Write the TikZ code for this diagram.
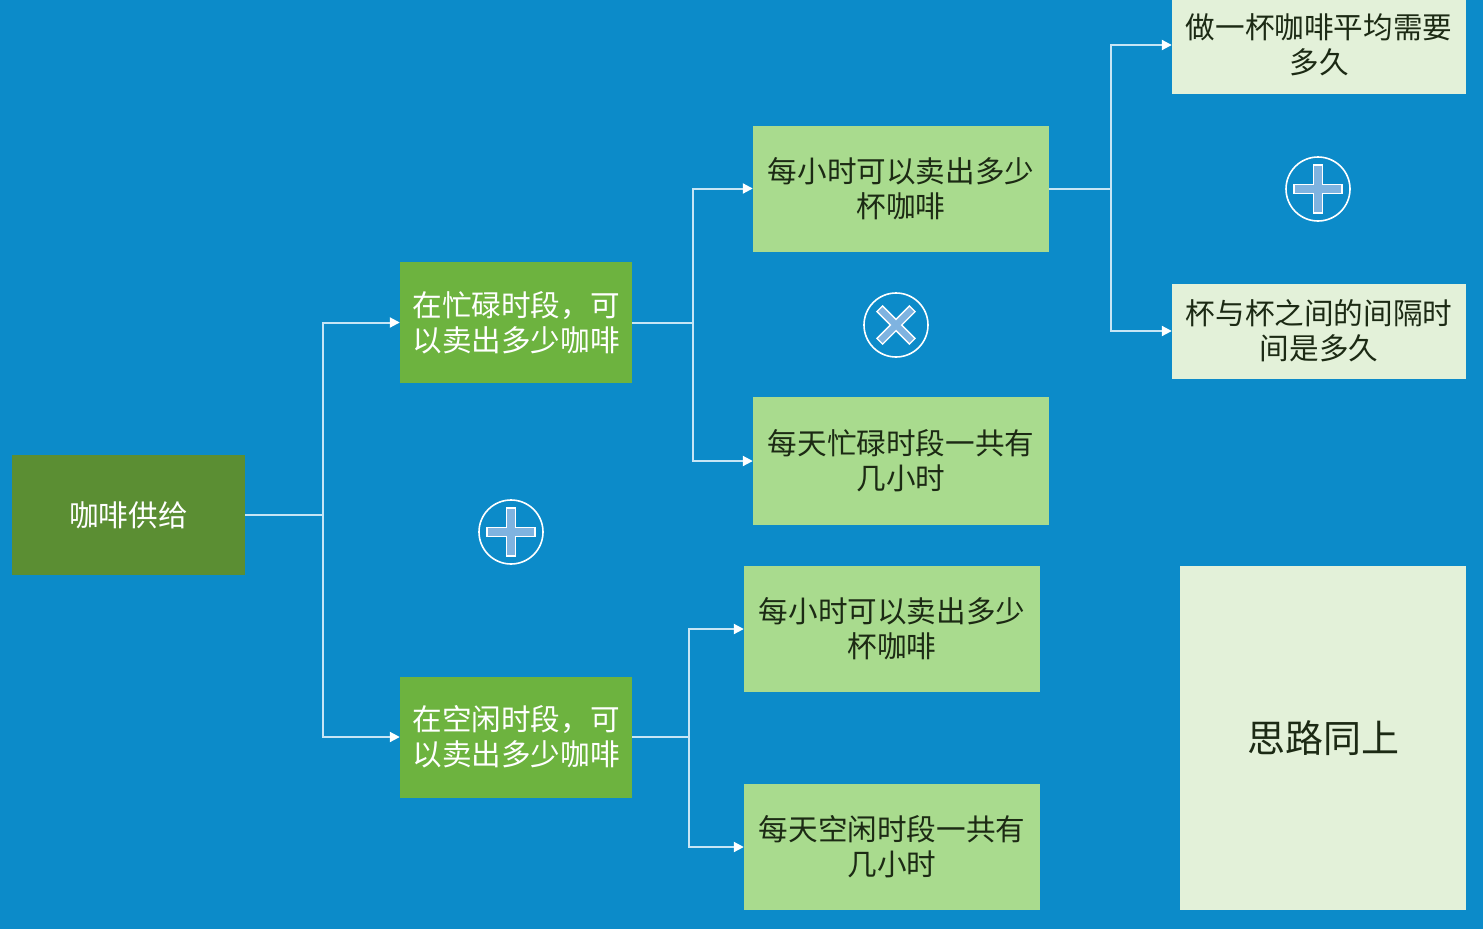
\documentclass[tikz,border=0pt]{standalone}
\usepackage{fontspec}
\setmainfont{Noto Sans CJK SC}
\usetikzlibrary{arrows.meta}
\definecolor{bg}{HTML}{0C8BC9}
\definecolor{rootg}{HTML}{5B8E33}
\definecolor{midg}{HTML}{6DB33F}
\definecolor{lightg}{HTML}{A9DB8E}
\definecolor{paleg}{HTML}{E3F1D9}
\definecolor{linec}{HTML}{C6E5F5}
\definecolor{symfill}{HTML}{7FB3E0}
\definecolor{darktext}{HTML}{1C2A14}
\tikzset{
  box/.style={rectangle, inner sep=0pt, align=center, font=\fontsize{29.6}{35}\selectfont},
  rootbox/.style={box, fill=rootg, text=white, minimum width=233, minimum height=120},
  midbox/.style={box, fill=midg, text=white, minimum width=232, minimum height=121},
  leafbox/.style={box, fill=lightg, text=darktext, minimum width=296, minimum height=126},
  palebox/.style={box, fill=paleg, text=darktext, minimum width=294, minimum height=95},
  conn/.style={draw=linec, line width=2pt},
  arr/.style={conn, -{Triangle[length=10pt,width=10pt,fill=white,color=white]}},
  ring/.style={circle, draw=white, line width=1.6pt, minimum size=64, inner sep=0pt},
  symb/.style={fill=symfill, draw=white, line width=1.3pt}
}
\begin{document}
\begin{tikzpicture}[x=1pt,y=-1pt]
\fill[bg] (0,0) rectangle (1483,929);
\useasboundingbox (0,0) rectangle (1483,929);

\node[rootbox] (root) at (128.5,515) {咖啡供给};
\node[midbox] (a1) at (516,322.5) {在忙碌时段，可\\以卖出多少咖啡};
\node[midbox] (a2) at (516,737) {在空闲时段，可\\以卖出多少咖啡};
\node[leafbox] (b1) at (901,188.5) {每小时可以卖出多少\\杯咖啡};
\node[leafbox, minimum height=128] (b2) at (901,461) {每天忙碌时段一共有\\几小时};
\node[leafbox] (c1) at (892,629) {每小时可以卖出多少\\杯咖啡};
\node[leafbox] (c2) at (892,847) {每天空闲时段一共有\\几小时};
\node[palebox, minimum height=98] (d1) at (1319,45) {做一杯咖啡平均需要\\多久};
\node[palebox] (d2) at (1319,331) {杯与杯之间的间隔时\\间是多久};
\node[palebox, minimum width=286, minimum height=344, font=\fontsize{38}{42}\selectfont] (e) at (1323,738) {思路同上};

% connectors
\coordinate (j1) at (323,515);
\coordinate (j2) at (693,322.5);
\coordinate (j3) at (689,737);
\coordinate (j4) at (1111,188.5);
\draw[conn] (root.east) -- (j1);
\draw[arr] (j1) |- (a1.west);
\draw[arr] (j1) |- (a2.west);
\draw[conn] (a1.east) -- (j2);
\draw[arr] (j2) |- (b1.west);
\draw[arr] (j2) |- (b2.west);
\draw[conn] (a2.east) -- (j3);
\draw[arr] (j3) |- (c1.west);
\draw[arr] (j3) |- (c2.west);
\draw[conn] (b1.east) -- (j4);
\draw[arr] (j4) |- (d1.west);
\draw[arr] (j4) |- (d2.west);

% symbols
\node[ring] (s1) at (511,532) {};
\node[ring] (s2) at (896,325) {};
\node[ring] (s3) at (1318,189) {};
\foreach \n in {s1,s3}{
  \draw[symb, shift={(\n.center)}]
    (-4.5,-24) -- (4.5,-24) -- (4.5,-4.5) -- (24,-4.5) -- (24,4.5) -- (4.5,4.5)
    -- (4.5,24) -- (-4.5,24) -- (-4.5,4.5) -- (-24,4.5) -- (-24,-4.5) -- (-4.5,-4.5) -- cycle;
}
\draw[symb, shift={(s2.center)}, rotate=45]
    (-4,-23) -- (4,-23) -- (4,-4) -- (23,-4) -- (23,4) -- (4,4)
    -- (4,23) -- (-4,23) -- (-4,4) -- (-23,4) -- (-23,-4) -- (-4,-4) -- cycle;
\end{tikzpicture}
\end{document}
